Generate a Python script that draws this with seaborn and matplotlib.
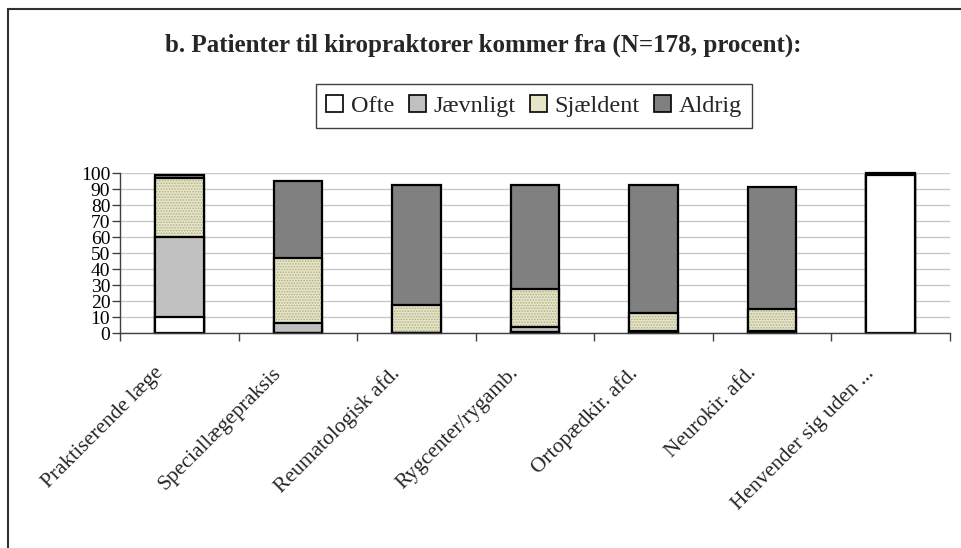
import matplotlib
matplotlib.use("Agg")
import matplotlib.pyplot as plt
from matplotlib.patches import Patch, Rectangle
from matplotlib.ticker import FixedLocator
from matplotlib.transforms import ScaledTranslation
import numpy as np
import seaborn as sns

categories = ["Praktiserende læge", "Speciallægepraksis", "Reumatologisk afd.",
              "Rygcenter/rygamb.", "Ortopædkir. afd.", "Neurokir. afd.",
              "Henvender sig uden ..."]
series_names = ["Ofte", "Jævnligt", "Sjældent", "Aldrig"]
ofte = [10, 0, 0, 0.5, 0.3, 0.3, 98.5]
jaevnligt = [50, 6, 0.3, 3, 0.7, 0.7, 0]
sjaeldent = [37, 41, 17, 24, 11.3, 14, 0]
aldrig = [1.5, 48, 75.5, 65, 80.2, 76, 1.5]
y_ticks = list(range(0, 101, 10))
title = "b. Patienter til kiropraktorer kommer fra (N=178, procent):"

col_ofte = "#FFFFFF"
col_jaev = "#C0C0C0"
col_sjael = "#E6E6C6"
col_sjael_dot = "#B0B090"
col_aldrig = "#808080"

sns.set_theme(style="white")
plt.rcParams["font.family"] = ["Liberation Serif", "DejaVu Serif"]
plt.rcParams["hatch.linewidth"] = 0.8

fig = plt.figure(figsize=(9.62, 5.48), dpi=100)
ax = fig.add_axes([120 / 962, 1 - 333 / 548, (950 - 120) / 962, (333 - 173) / 548])

c1 = np.array(ofte)
c2 = c1 + np.array(jaevnligt)
c3 = c2 + np.array(sjaeldent)
c4 = c3 + np.array(aldrig)

bw = 0.41
lw = 1.6
sns.barplot(x=categories, y=c4, color=col_aldrig, saturation=1, width=bw,
            edgecolor="black", linewidth=lw, errorbar=None, ax=ax, clip_on=False)
sns.barplot(x=categories, y=c3, color=col_sjael, saturation=1, width=bw,
            edgecolor=col_sjael_dot, linewidth=0, hatch="......", errorbar=None, ax=ax)
sns.barplot(x=categories, y=c3, fill=False, width=bw,
            edgecolor="black", linewidth=lw, errorbar=None, ax=ax)
sns.barplot(x=categories, y=c2, color=col_jaev, saturation=1, width=bw,
            edgecolor="black", linewidth=lw, errorbar=None, ax=ax)
sns.barplot(x=categories, y=c1, color=col_ofte, saturation=1, width=bw,
            edgecolor="black", linewidth=lw, errorbar=None, ax=ax)

ax.set_ylim(0, 100)
ax.set_xlim(-0.5, len(categories) - 0.5)
ax.yaxis.set_major_locator(FixedLocator(y_ticks))
ax.set_yticklabels([str(t) for t in y_ticks])
ax.yaxis.grid(True, color="#C8C8C8", linewidth=1)
ax.set_axisbelow(True)
ax.set_xlabel("")
ax.set_ylabel("")
for s in ["top", "right"]:
    ax.spines[s].set_visible(False)
for s in ["left", "bottom"]:
    ax.spines[s].set_color("#404040")
    ax.spines[s].set_linewidth(1.0)

ax.tick_params(axis="y", which="major", left=True, length=6, width=1, color="#404040",
               pad=1, labelsize=14, labelcolor="black")
ax.set_xticks(range(len(categories)))
ax.set_xticklabels(categories, rotation=45, ha="right", rotation_mode="anchor",
                   fontsize=15.5)
ax.tick_params(axis="x", which="major", length=0, pad=27)
ax.xaxis.set_minor_locator(FixedLocator(np.arange(-0.5, len(categories), 1.0)))
ax.tick_params(axis="x", which="minor", bottom=True, length=6, width=1, color="#404040")
shift = ScaledTranslation(-19 / 100, 0, fig.dpi_scale_trans)
for lab in ax.get_xticklabels():
    lab.set_va("center")
    lab.set_transform(lab.get_transform() + shift)

fig.text(483 / 962, 1 - 45 / 548, title, ha="center", va="center",
         fontsize=18, fontweight="bold")

handles = [
    Patch(facecolor=col_ofte, edgecolor="black", linewidth=1.2),
    Patch(facecolor=col_jaev, edgecolor="black", linewidth=1.2),
    Patch(facecolor=col_sjael, edgecolor="black", linewidth=1.2),
    Patch(facecolor=col_aldrig, edgecolor="black", linewidth=1.2),
]
leg = fig.legend(handles, series_names, loc="center",
                 bbox_to_anchor=(534 / 962, 1 - 106 / 548), ncol=4, fontsize=17.5,
                 frameon=True, fancybox=False, edgecolor="#404040", framealpha=1,
                 handlelength=0.7, handleheight=0.7, handletextpad=0.3,
                 columnspacing=0.6, borderpad=0.45, borderaxespad=0)
leg.get_frame().set_linewidth(1.0)

fig.patches.append(Rectangle((8 / 962, -0.1), 1.2, 1.1 - 9 / 548, transform=fig.transFigure,
                             fill=False, edgecolor="#303030", linewidth=1.5, zorder=-1))

fig.savefig("out.png", dpi=100)
